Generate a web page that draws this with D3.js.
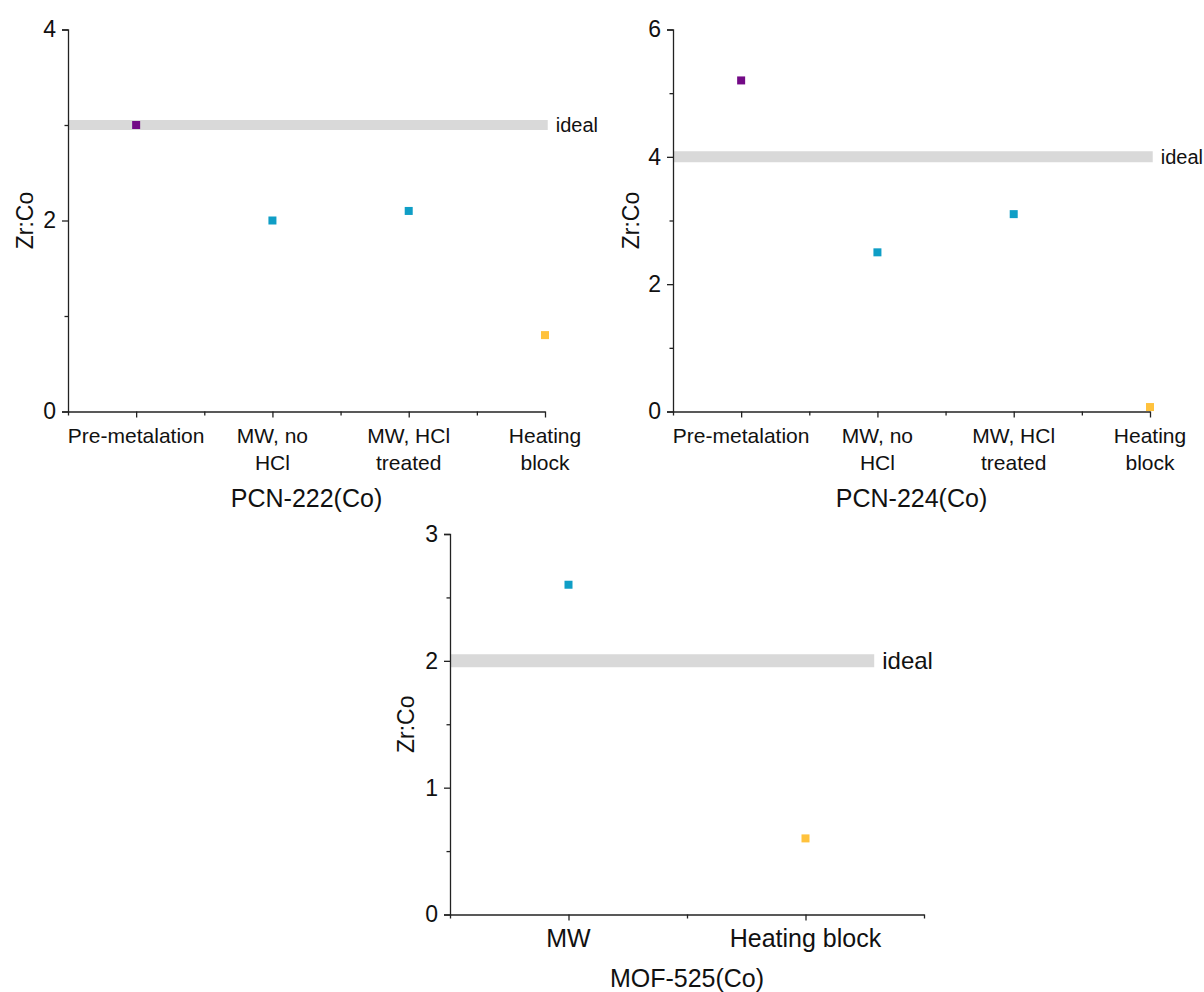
<!DOCTYPE html>
<html>
<head>
<meta charset="utf-8">
<script src="https://cdnjs.cloudflare.com/ajax/libs/d3/7.8.5/d3.min.js"></script>
<style>
  body { margin: 0; background: #fff; }
  svg text { font-family: 'Liberation Sans', Arial, sans-serif; fill: #111; }
  .axis path, .axis line { stroke: #222; stroke-width: 1.3; }
</style>
</head>
<body>
<div id="chart"></div>
<script>
// categories (line breaks with \n)
const pcn222Categories = ['Pre-metalation', 'MW, no\nHCl', 'MW, HCl\ntreated', 'Heating\nblock']
const pcn224Categories = ['Pre-metalation', 'MW, no\nHCl', 'MW, HCl\ntreated', 'Heating\nblock']
const mof525Categories = ['MW', 'Heating block']

// Zr:Co values
const pcn222Values = [3.0, 2.0, 2.1, 0.8]
const pcn224Values = [5.2, 2.5, 3.1, 0.07]
const mof525Values = [2.6, 0.6]

// ideal ratio
const pcn222Ideal = 3
const pcn224Ideal = 4
const mof525Ideal = 2

// y tick values
const pcn222Ticks = [0, 2, 4]
const pcn222Minor = [1, 3]
const pcn224Ticks = [0, 2, 4, 6]
const pcn224Minor = [1, 3, 5]
const mof525Ticks = [0, 1, 2, 3]
const mof525Minor = [0.5, 1.5, 2.5]

const purple = '#730A86'
const cyan = '#0F9EC6'
const yellow = '#FFC23D'

const pcn222Colors = [purple, cyan, cyan, yellow]
const pcn224Colors = [purple, cyan, cyan, yellow]
const mof525Colors = [cyan, yellow]

const svg = d3
  .select('#chart')
  .append('svg')
  .attr('width', 1204)
  .attr('height', 992)

function drawPanel(p) {
  const n = p.categories.length
  const x = d3.scaleLinear().domain([0.5, p.xMax]).range([p.left, p.right])
  const y = d3.scaleLinear().domain([0, p.yMax]).range([p.bottom, p.top])

  const g = svg.append('g')

  // ideal band
  g.append('line')
    .attr('x1', x(0.5))
    .attr('x2', x(p.bandEnd))
    .attr('y1', y(p.ideal))
    .attr('y2', y(p.ideal))
    .attr('stroke', '#d9d9d9')
    .attr('stroke-width', p.bandWidth)

  g.append('text')
    .attr('x', x(p.bandEnd) + 8)
    .attr('y', y(p.ideal))
    .attr('dy', '0.35em')
    .attr('font-size', p.idealSize)
    .text('ideal')

  // y axis
  const yAxis = g.append('g')
    .attr('class', 'axis')
    .attr('transform', `translate(${p.left},0)`)
    .call(d3.axisLeft(y).tickValues(p.yTicks).tickSize(6).tickPadding(6).tickFormat(d3.format('d')))
  yAxis.attr('font-size', null).attr('font-family', null)
  yAxis.selectAll('text').attr('font-size', p.tickSize)

  g.append('g')
    .attr('class', 'axis')
    .attr('transform', `translate(${p.left},0)`)
    .call(d3.axisLeft(y).tickValues(p.yMinor).tickSize(3.5).tickFormat(''))
    .select('.domain').remove()

  // x axis
  const majors = d3.range(1, n + 1)
  const minors = d3.range(0.5, p.xMax + 0.01, 1)
  g.append('g')
    .attr('class', 'axis')
    .attr('transform', `translate(0,${p.bottom})`)
    .call(d3.axisBottom(x).tickValues(majors).tickSize(6).tickSizeOuter(0).tickFormat(''))

  g.append('g')
    .attr('class', 'axis')
    .attr('transform', `translate(0,${p.bottom})`)
    .call(d3.axisBottom(x).tickValues(minors).tickSize(4).tickFormat(''))
    .select('.domain').remove()

  // category labels
  p.categories.forEach((c, i) => {
    const t = g.append('text')
      .attr('x', x(i + 1))
      .attr('y', p.bottom + p.catOffset)
      .attr('text-anchor', 'middle')
      .attr('font-size', p.catSize)
    c.split('\n').forEach((line, j) => {
      t.append('tspan')
        .attr('x', x(i + 1))
        .attr('dy', j === 0 ? 0 : p.lineGap)
        .text(line)
    })
  })

  // axis titles
  g.append('text')
    .attr('x', (p.left + p.right) / 2)
    .attr('y', p.titleY)
    .attr('text-anchor', 'middle')
    .attr('font-size', p.titleSize)
    .text(p.title)

  g.append('text')
    .attr('transform', `translate(${p.yLabelX},${(p.top + p.bottom) / 2}) rotate(-90)`)
    .attr('text-anchor', 'middle')
    .attr('font-size', p.yLabelSize)
    .text('Zr:Co')

  // points
  const s = 8
  g.selectAll('.pt')
    .data(p.values)
    .enter()
    .append('rect')
    .attr('class', 'pt')
    .attr('x', (d, i) => x(i + 1) - s / 2)
    .attr('y', d => y(d) - s / 2)
    .attr('width', s)
    .attr('height', s)
    .attr('fill', (d, i) => p.colors[i])
}

drawPanel({
  categories: pcn222Categories, values: pcn222Values, colors: pcn222Colors,
  ideal: pcn222Ideal, yTicks: pcn222Ticks, yMinor: pcn222Minor, yMax: 4,
  xMax: 4, bandEnd: 4.02, bandWidth: 10,
  left: 68, right: 545, top: 29.5, bottom: 411.5,
  title: 'PCN-222(Co)', titleY: 507, titleSize: 25,
  catSize: 21, catOffset: 31, lineGap: 27, tickSize: 23, idealSize: 20,
  yLabelX: 33, yLabelSize: 23
})

drawPanel({
  categories: pcn224Categories, values: pcn224Values, colors: pcn224Colors,
  ideal: pcn224Ideal, yTicks: pcn224Ticks, yMinor: pcn224Minor, yMax: 6,
  xMax: 4, bandEnd: 4.02, bandWidth: 11,
  left: 673, right: 1150, top: 29.5, bottom: 411.5,
  title: 'PCN-224(Co)', titleY: 507, titleSize: 25,
  catSize: 21, catOffset: 31, lineGap: 27, tickSize: 23, idealSize: 20,
  yLabelX: 639, yLabelSize: 23
})

drawPanel({
  categories: mof525Categories, values: mof525Values, colors: mof525Colors,
  ideal: mof525Ideal, yTicks: mof525Ticks, yMinor: mof525Minor, yMax: 3,
  xMax: 2.5, bandEnd: 2.29, bandWidth: 13,
  left: 450, right: 924, top: 534, bottom: 914.5,
  title: 'MOF-525(Co)', titleY: 987, titleSize: 25,
  catSize: 25, catOffset: 32, lineGap: 27, tickSize: 23, idealSize: 24,
  yLabelX: 414, yLabelSize: 23
})
</script>
</body>
</html>
